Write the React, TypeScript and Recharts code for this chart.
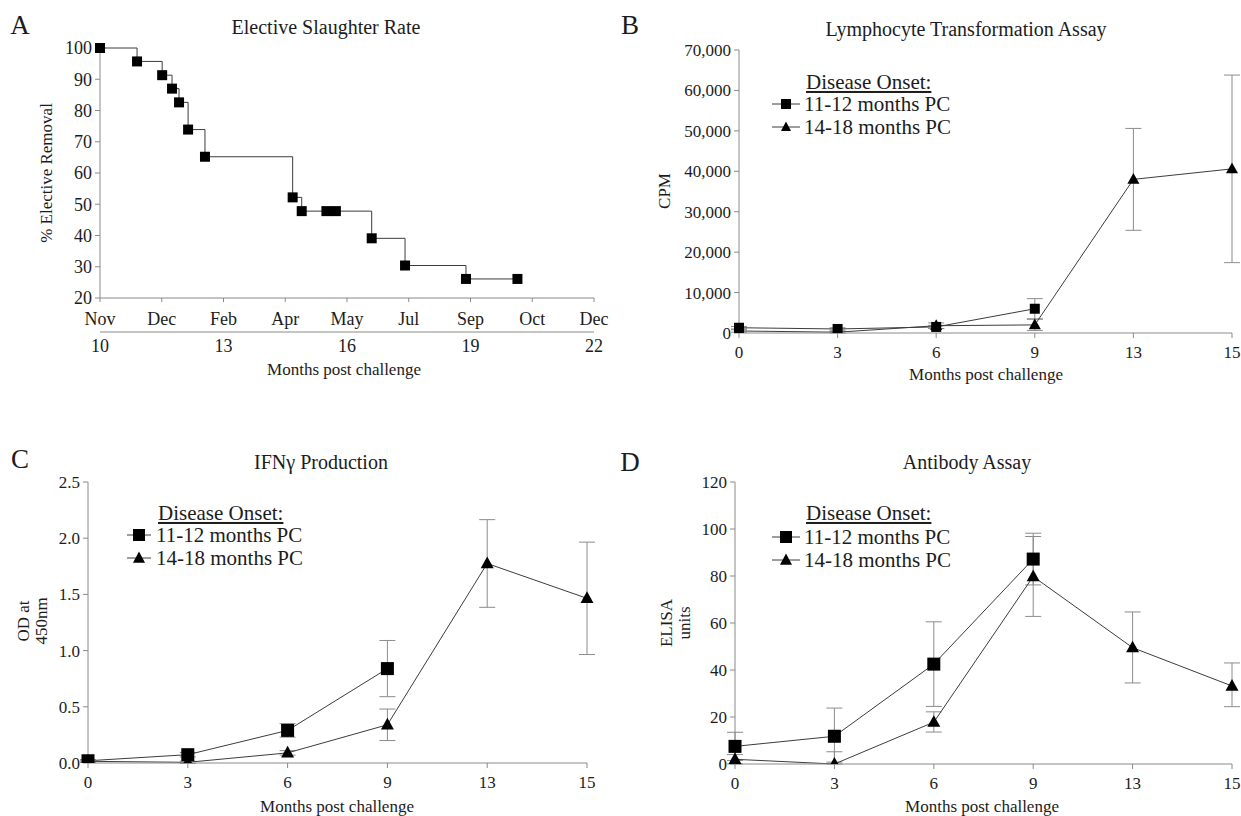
import { LineChart, Line, XAxis, YAxis, ErrorBar } from 'recharts'

const FONT = '"Liberation Serif", "Times New Roman", serif'
const INK = '#1c1c1c'
const AXIS = '#8a8a8a'
const LINE = '#3c3c3c'
const BAR = '#8c8c8c'

// A: elective removal (step curve)
const removalMonths = [10.0, 10.9, 11.51, 11.75, 11.92, 12.14, 12.55, 14.68, 14.9, 15.5, 15.73, 16.6, 17.41, 18.89, 20.14]
const removalPct = [100, 95.7, 91.3, 87.0, 82.6, 73.9, 65.2, 52.2, 47.8, 47.8, 47.8, 39.1, 30.4, 26.1, 26.1]
const calTicks = [10, 11.5, 13, 14.5, 16, 17.5, 19, 20.5, 22]
const calLabels = ['Nov', 'Dec', 'Feb', 'Apr', 'May', 'Jul', 'Sep', 'Oct', 'Dec']
const pcTicks = [10, 13, 16, 19, 22]
const pctTicks = [20, 30, 40, 50, 60, 70, 80, 90, 100]

// B-D: sampling points (months post challenge)
const visits = ['0', '3', '6', '9', '13', '15']

// B: lymphocyte transformation, CPM
const cpmEarly = [1300, 1000, 1500, 6000, null, null]
const cpmEarlyErr = [300, 300, 400, 2500, null, null]
const cpmLate = [500, 200, 1800, 2000, 38000, 40600]
const cpmLateErr = [300, 200, 700, 1400, 12600, 23200]
const cpmTicks = [0, 10000, 20000, 30000, 40000, 50000, 60000, 70000]

// C: IFN-gamma, OD 450nm
const odEarly = [0.02, 0.074, 0.29, 0.84, null, null]
const odEarlyErr = [0.01, 0.02, 0.06, 0.25, null, null]
const odLate = [0.015, 0.006, 0.09, 0.34, 1.775, 1.465]
const odLateErr = [0.01, 0.01, 0.02, 0.14, 0.39, 0.5]
const odTicks = [0, 0.5, 1.0, 1.5, 2.0, 2.5]

// D: antibody ELISA units, errors as [below, above]
const elisaEarly = [7.5, 11.8, 42.5, 87.2, null, null]
const elisaEarlyErr = [[6, 6], [11, 12], [18, 18], [11, 11], null, null]
const elisaLate = [2.0, 0, 17.8, 79.8, 49.5, 33.2]
const elisaLateErr = [[2, 2], [0, 5.2], [4.2, 4.4], [17, 17], [15, 15.2], [8.8, 9.8]]
const elisaTicks = [0, 20, 40, 60, 80, 100, 120]

const removalData = removalMonths.map((m, i) => ({ m, pct: removalPct[i] }))
const cpmData = visits.map((v, i) => ({ v, a: cpmEarly[i], ae: cpmEarlyErr[i], b: cpmLate[i], be: cpmLateErr[i] }))
const odData = visits.map((v, i) => ({ v, a: odEarly[i], ae: odEarlyErr[i], b: odLate[i], be: odLateErr[i] }))
const elisaData = visits.map((v, i) => ({ v, a: elisaEarly[i], ae: elisaEarlyErr[i], b: elisaLate[i], be: elisaLateErr[i] }))

const square = (size: number) => (p: any) => {
  if (p.cx == null || p.cy == null || p.value == null) return <g key={p.index} />
  return <rect key={p.index} x={p.cx - size / 2} y={p.cy - size / 2} width={size} height={size} fill="#000" />
}

const triangle = (size: number) => (p: any) => {
  if (p.cx == null || p.cy == null || p.value == null) return <g key={p.index} />
  const h = size * 0.9
  const pts = `${p.cx},${p.cy - h * 0.6} ${p.cx - size / 2},${p.cy + h * 0.4} ${p.cx + size / 2},${p.cy + h * 0.4}`
  return <polygon key={p.index} points={pts} fill="#000" />
}

function Txt({ x, y, size = 17, children, rotate, anchor = 'center', style }: {
  x: number; y: number; size?: number; children: any; rotate?: boolean; anchor?: 'center' | 'left'; style?: any
}) {
  const tx = anchor === 'center' ? '-50%' : '0'
  return (
    <div style={{
      position: 'absolute', left: x, top: y, fontFamily: FONT, fontSize: size, color: INK,
      whiteSpace: 'nowrap', lineHeight: 1.05, textAlign: 'center',
      transform: `translate(${tx}, -50%)${rotate ? ' rotate(-90deg)' : ''}`,
      transformOrigin: anchor === 'center' ? 'center' : 'left center',
      ...style,
    }}>
      {children}
    </div>
  )
}

function Legend({ x, lineW, textX, y0, y1, y2, size }: {
  x: number; lineW: number; textX: number; y0: number; y1: number; y2: number; size: number
}) {
  return (
    <>
      <Txt x={textX + 2} y={y0} size={21} anchor="left" style={{ textDecoration: 'underline', textUnderlineOffset: 2 }}>
        Disease Onset:
      </Txt>
      <svg style={{ position: 'absolute', left: x, top: y1 - 10, overflow: 'visible' }} width={lineW} height={20}>
        <line x1={0} y1={10} x2={lineW} y2={10} stroke={LINE} strokeWidth={1} />
        <rect x={lineW / 2 - size / 2} y={10 - size / 2} width={size} height={size} fill="#000" />
      </svg>
      <svg style={{ position: 'absolute', left: x, top: y2 - 10, overflow: 'visible' }} width={lineW} height={20}>
        <line x1={0} y1={10} x2={lineW} y2={10} stroke={LINE} strokeWidth={1} />
        <polygon points={`${lineW / 2},${10 - size * 0.55} ${lineW / 2 - size / 2},${10 + size * 0.4} ${lineW / 2 + size / 2},${10 + size * 0.4}`} fill="#000" />
      </svg>
      <Txt x={textX} y={y1} size={21} anchor="left">11-12 months PC</Txt>
      <Txt x={textX} y={y2} size={21} anchor="left">14-18 months PC</Txt>
    </>
  )
}

const tickStyle = (size: number) => ({ fontSize: size, fill: INK, fontFamily: FONT })

function AssayChart({ data, width, height, margin, yWidth, domain, ticks, fmt, sq, tri, bar }: any) {
  return (
    <LineChart width={width} height={height} data={data} margin={margin}>
      <XAxis
        dataKey="v"
        height={30}
        tick={tickStyle(17)}
        tickSize={5}
        tickMargin={8}
        stroke={AXIS}
        interval={0}
      />
      <YAxis
        width={yWidth}
        domain={domain}
        ticks={ticks}
        allowDataOverflow
        tick={tickStyle(17)}
        tickSize={5}
        tickMargin={3}
        stroke={AXIS}
        tickFormatter={fmt}
        interval={0}
      />
      <Line dataKey="a" stroke={LINE} strokeWidth={1} dot={square(sq)} isAnimationActive={false} activeDot={false}>
        <ErrorBar dataKey="ae" width={bar} stroke={BAR} strokeWidth={1} direction="y" />
      </Line>
      <Line dataKey="b" stroke={LINE} strokeWidth={1} dot={triangle(tri)} isAnimationActive={false} activeDot={false}>
        <ErrorBar dataKey="be" width={bar} stroke={BAR} strokeWidth={1} direction="y" />
      </Line>
    </LineChart>
  )
}

export default function App() {
  return (
    <div style={{ position: 'absolute', left: 0, top: 0, width: 1241, height: 816, background: '#fff', overflow: 'hidden' }}>
      {/* A */}
      <div style={{ position: 'absolute', left: 0, top: 0 }}>
        <LineChart width={620} height={400} data={removalData} margin={{ top: 48, right: 26, bottom: 38, left: 0 }}>
          <XAxis
            dataKey="m"
            type="number"
            domain={[10, 22]}
            ticks={calTicks}
            interval={0}
            height={34}
            tickSize={4}
            tickMargin={10}
            stroke={AXIS}
            tick={tickStyle(18)}
            tickFormatter={(v: number) => calLabels[calTicks.indexOf(v)]}
          />
          <XAxis
            xAxisId="pc"
            dataKey="m"
            type="number"
            domain={[10, 22]}
            ticks={pcTicks}
            interval={0}
            height={30}
            tickLine={false}
            tickSize={0}
            tickMargin={7}
            stroke={AXIS}
            tick={tickStyle(18)}
          />
          <YAxis
            width={100}
            domain={[20, 100]}
            ticks={pctTicks}
            interval={0}
            tickSize={5}
            tickMargin={3}
            stroke={AXIS}
            tick={tickStyle(18)}
          />
          <Line type="stepAfter" dataKey="pct" stroke={LINE} strokeWidth={1} dot={square(10)} isAnimationActive={false} activeDot={false} />
        </LineChart>
      </div>
      <Txt x={20} y={25} size={27}>A</Txt>
      <Txt x={326} y={27} size={20}>Elective Slaughter Rate</Txt>
      <Txt x={47} y={173} rotate>% Elective Removal</Txt>
      <Txt x={344} y={370}>Months post challenge</Txt>

      {/* B */}
      <div style={{ position: 'absolute', left: 620, top: 0 }}>
        <AssayChart
          data={cpmData} width={621} height={400}
          margin={{ top: 50, right: 9, bottom: 37, left: 0 }}
          yWidth={119} domain={[0, 70000]} ticks={cpmTicks}
          fmt={(v: number) => v.toLocaleString('en-US')}
          sq={10} tri={12} bar={8}
        />
      </div>
      <Txt x={630} y={25} size={27}>B</Txt>
      <Txt x={966} y={29} size={20}>Lymphocyte Transformation Assay</Txt>
      <Txt x={665} y={191} rotate>CPM</Txt>
      <Txt x={986} y={375}>Months post challenge</Txt>
      <Legend x={772} lineW={28} textX={804} y0={82} y1={104} y2={127} size={10} />

      {/* C */}
      <div style={{ position: 'absolute', left: 0, top: 400 }}>
        <AssayChart
          data={odData} width={620} height={416}
          margin={{ top: 82, right: 33, bottom: 23, left: 0 }}
          yWidth={88} domain={[0, 2.5]} ticks={odTicks}
          fmt={(v: number) => v.toFixed(1)}
          sq={13} tri={13} bar={8}
        />
      </div>
      <Txt x={20} y={459} size={27}>C</Txt>
      <Txt x={321} y={462} size={20}>IFNγ Production</Txt>
      <Txt x={33} y={621} rotate>OD at<br />450nm</Txt>
      <Txt x={337} y={807}>Months post challenge</Txt>
      <Legend x={127} lineW={24} textX={156} y0={513} y1={535} y2={558} size={12} />

      {/* D */}
      <div style={{ position: 'absolute', left: 620, top: 400 }}>
        <AssayChart
          data={elisaData} width={621} height={416}
          margin={{ top: 82, right: 9, bottom: 22, left: 0 }}
          yWidth={115} domain={[0, 120]} ticks={elisaTicks}
          fmt={(v: number) => String(v)}
          sq={13} tri={13} bar={8}
        />
      </div>
      <Txt x={630} y={462} size={27}>D</Txt>
      <Txt x={967} y={462} size={20}>Antibody Assay</Txt>
      <Txt x={676} y={623} rotate>ELISA<br />units</Txt>
      <Txt x={982} y={807}>Months post challenge</Txt>
      <Legend x={772} lineW={28} textX={804} y0={513} y1={537} y2={560} size={12} />
    </div>
  )
}
